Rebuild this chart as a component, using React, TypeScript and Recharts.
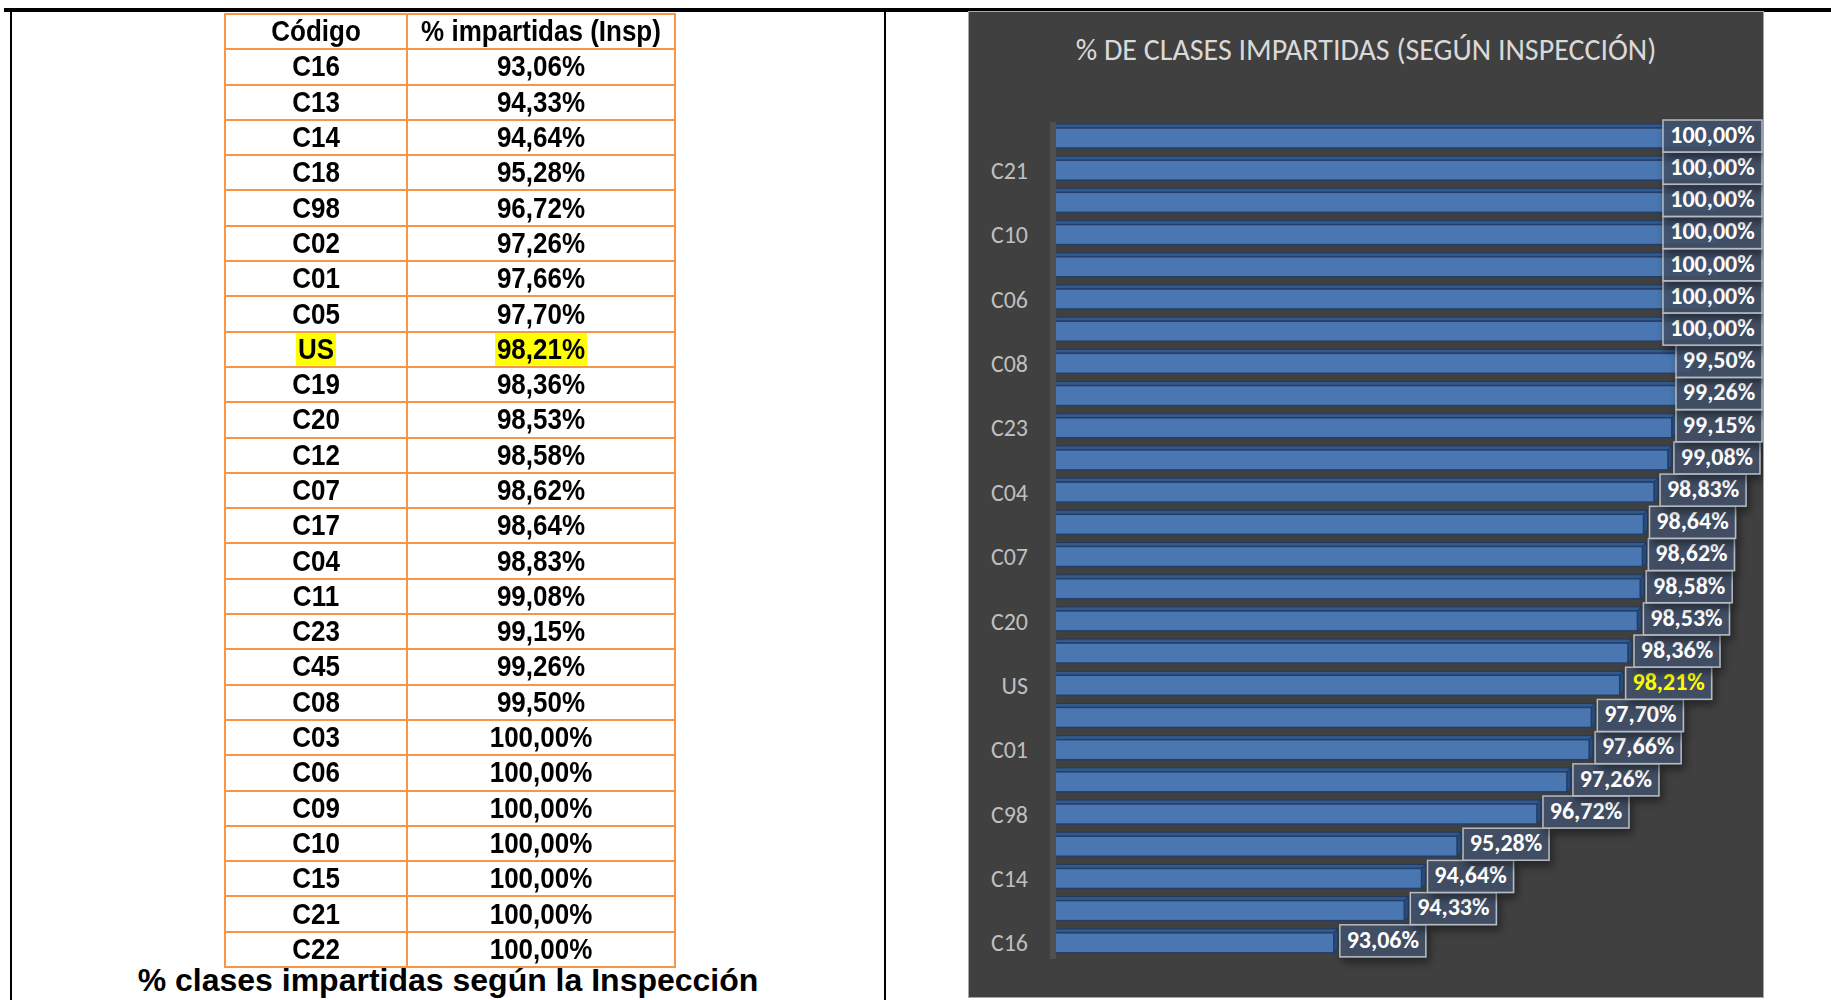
import { Bar, BarChart, LabelList, XAxis, YAxis } from 'recharts';

// same order as the table, top to bottom (lowest first)
const codes = [
    'C16', 'C13', 'C14', 'C18', 'C98', 'C02', 'C01', 'C05', 'US', 'C19', 'C20', 'C12', 'C07',
    'C17', 'C04', 'C11', 'C23', 'C45', 'C08', 'C03', 'C06', 'C09', 'C10', 'C15', 'C21', 'C22',
];
const impartidas = [
    93.06, 94.33, 94.64, 95.28, 96.72, 97.26, 97.66, 97.7, 98.21, 98.36, 98.53, 98.58, 98.62,
    98.64, 98.83, 99.08, 99.15, 99.26, 99.5, 100, 100, 100, 100, 100, 100, 100,
];
const highlightCode = 'US';
const valueDomain = [88, 100];

const chartData = codes.map((code, i) => ({ code, pct: impartidas[i] }));

const fmt = (v: number): string =>
    new Intl.NumberFormat('es-ES', { minimumFractionDigits: 2, maximumFractionDigits: 2 }).format(v) + '%';

const CHART_W = 794;
const CHART_H = 985;
const ORANGE = '#f79646';
const chartFont = "Carlito, 'Open Sans', sans-serif";

const Bar3D = (props: any) => {
    const { x, y, width, height } = props;
    const d = 4;
    return (
        <g>
            <polygon
                points={`${x},${y} ${x + d},${y - d} ${x + width + d},${y - d} ${x + width},${y}`}
                fill="#34598c"
                stroke="#1f3a62"
                strokeWidth={1}
            />
            <polygon
                points={`${x + width},${y} ${x + width + d},${y - d} ${x + width + d},${y + height - d} ${x + width},${y + height}`}
                fill="#2c4e7e"
                stroke="#1f3a62"
                strokeWidth={1}
            />
            <rect x={x} y={y} width={width} height={height} fill="#4a77b1" stroke="#223f69" strokeWidth={1.5} />
        </g>
    );
};

const ValueBox = (props: any) => {
    const { x, y, width, height, value, index } = props;
    const text = fmt(Number(value));
    const w = 13 * text.length + 8;
    const h = 32;
    const bx = Math.min(x + width + 6, CHART_W - 1 - w);
    const cy = y + height / 2 - 2;
    const isUs = codes[index] === highlightCode;
    return (
        <g>
            <rect
                x={bx}
                y={cy - h / 2}
                width={w}
                height={h}
                fill="#42526a"
                fillOpacity={0.85}
                stroke="#b4bbc5"
                strokeWidth={1.5}
                filter="url(#boxShadow)"
            />
            <text
                x={bx + w / 2}
                y={cy + 1}
                textAnchor="middle"
                dominantBaseline="middle"
                fontFamily={chartFont}
                fontWeight={700}
                fontSize={24}
                fill={isUs ? '#ffff00' : '#ffffff'}
            >
                {text}
            </text>
        </g>
    );
};

const cellText = { display: 'inline-block', transform: 'scaleY(1.12)' };

const CodeTable = () => (
    <table
        style={{
            position: 'absolute',
            left: 224,
            top: 13,
            borderCollapse: 'collapse',
            fontFamily: "'Liberation Sans', Arial, sans-serif",
            fontWeight: 700,
            fontSize: 26,
            lineHeight: '29px',
            color: '#000',
        }}
    >
        <tbody>
            <tr style={{ height: 35.3 }}>
                <td style={{ border: `2px solid ${ORANGE}`, width: 180, textAlign: 'center', padding: 0 }}>
                    <span style={cellText}>Código</span>
                </td>
                <td style={{ border: `2px solid ${ORANGE}`, width: 266, textAlign: 'center', padding: 0 }}>
                    <span style={cellText}>% impartidas (Insp)</span>
                </td>
            </tr>
            {codes.map((code, i) => {
                const hl = code === highlightCode;
                const mark = hl ? { ...cellText, background: '#ffff00', padding: '0 2px' } : cellText;
                return (
                    <tr key={code} style={{ height: 35.3 }}>
                        <td style={{ border: `2px solid ${ORANGE}`, textAlign: 'center', padding: 0 }}>
                            <span style={mark}>{code}</span>
                        </td>
                        <td style={{ border: `2px solid ${ORANGE}`, textAlign: 'center', padding: 0 }}>
                            <span style={mark}>{fmt(impartidas[i])}</span>
                        </td>
                    </tr>
                );
            })}
        </tbody>
    </table>
);

export default function App() {
    return (
        <div style={{ position: 'fixed', left: 0, top: 0, width: 1831, height: 1000, background: '#fff', overflow: 'hidden' }}>
            <div style={{ position: 'absolute', left: 4, top: 8, width: 1827, height: 4, background: '#000' }} />
            <div style={{ position: 'absolute', left: 10, top: 8, width: 2, height: 992, background: '#000' }} />
            <div style={{ position: 'absolute', left: 884, top: 8, width: 2, height: 992, background: '#000' }} />

            <CodeTable />

            <div
                style={{
                    position: 'absolute',
                    left: 12,
                    width: 872,
                    top: 962,
                    textAlign: 'center',
                    fontFamily: "'Liberation Sans', Arial, sans-serif",
                    fontWeight: 700,
                    fontSize: 32,
                    lineHeight: '36px',
                    whiteSpace: 'nowrap',
                }}
            >
                % clases impartidas según la Inspección
            </div>

            <div
                style={{
                    position: 'absolute',
                    left: 969,
                    top: 12,
                    width: CHART_W,
                    height: CHART_H,
                    background: '#404040',
                    outline: '1px solid #a6a6a6',
                }}
            >
                <div
                    style={{
                        position: 'absolute',
                        left: 0,
                        width: CHART_W,
                        top: 18,
                        textAlign: 'center',
                        fontFamily: chartFont,
                        fontSize: 30,
                        lineHeight: '40px',
                        color: '#d9d9d9',
                        whiteSpace: 'nowrap',
                    }}
                >
                    % DE CLASES IMPARTIDAS (SEGÚN INSPECCIÓN)
                </div>
                <BarChart
                    width={CHART_W}
                    height={CHART_H}
                    data={chartData}
                    layout="vertical"
                    margin={{ top: 110, right: 44, bottom: 38, left: 0 }}
                    style={{ position: 'absolute', left: 0, top: 0 }}
                >
                    <defs>
                        <filter id="boxShadow" x="-20%" y="-30%" width="150%" height="190%">
                            <feDropShadow dx="3" dy="5" stdDeviation="4" floodColor="#000" floodOpacity="0.5" />
                        </filter>
                    </defs>
                    <XAxis type="number" domain={valueDomain} allowDataOverflow hide />
                    <YAxis
                        type="category"
                        dataKey="code"
                        reversed
                        width={84}
                        interval={1}
                        tickSize={0}
                        tickMargin={25}
                        axisLine={{ stroke: '#505050', strokeWidth: 6 }}
                        tick={{ fill: '#bfbfbf', fontSize: 24, fontFamily: chartFont }}
                    />
                    <Bar dataKey="pct" barSize={20} shape={Bar3D} isAnimationActive={false}>
                        <LabelList dataKey="pct" content={ValueBox} />
                    </Bar>
                </BarChart>
            </div>
        </div>
    );
}
